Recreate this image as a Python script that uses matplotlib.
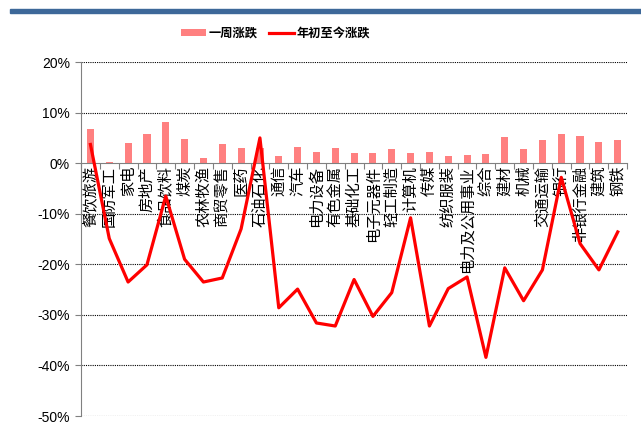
import numpy as np
import matplotlib
matplotlib.use("Agg")
import matplotlib.pyplot as plt
from matplotlib.patches import Rectangle
from matplotlib.ticker import FixedLocator, PercentFormatter

plt.rcParams['font.family'] = ['Noto Sans CJK SC', 'DejaVu Sans']
plt.rcParams['axes.unicode_minus'] = False

industries = ["餐饮旅游", "国防军工", "家电", "房地产", "食品饮料", "煤炭", "农林牧渔",
              "商贸零售", "医药", "石油石化", "通信", "汽车", "电力设备", "有色金属",
              "基础化工", "电子元器件", "轻工制造", "计算机", "传媒", "纺织服装",
              "电力及公用事业", "综合", "建材", "机械", "交通运输", "银行", "非银行金融",
              "建筑", "钢铁"]
week_chg = [6.85, 0.2, 3.95, 5.8, 8.2, 4.8, 1.05, 3.7, 2.95, 3.0, 1.5, 3.15, 2.2, 3.0,
            2.05, 2.05, 2.9, 2.1, 2.25, 1.5, 1.7, 1.85, 5.25, 2.9, 4.65, 5.8, 5.4,
            4.25, 4.65]
ytd_chg = [3.7, -14.9, -23.5, -20.1, -6.5, -19.0, -23.5, -22.7, -13.0, 5.0, -28.6,
           -24.9, -31.6, -32.2, -23.0, -30.3, -25.6, -10.8, -32.2, -24.8, -22.5,
           -38.4, -20.7, -27.2, -21.1, -2.8, -15.9, -21.1, -13.6]
y_ticks = [20, 10, 0, -10, -20, -30, -40, -50]

fig = plt.figure(figsize=(6.41, 4.37), dpi=100)
ax = fig.add_axes([0.1264, 0.048, 0.852, 0.81])

x = np.arange(len(industries))
bars = ax.bar(x, week_chg, width=0.38, color="#ff8080", label="一周涨跌", zorder=2)
line, = ax.plot(x, ytd_chg, color="#ff0000", linewidth=2.3, label="年初至今涨跌", zorder=5)

ax.set_xlim(-0.5, len(industries) - 0.5)
ax.set_ylim(-50, 20)

ax.spines['bottom'].set_position(('data', 0))
ax.spines['bottom'].set_color("#808080")
ax.spines['left'].set_color("#808080")
ax.spines['top'].set_visible(False)
ax.spines['right'].set_visible(False)

ax.set_yticks(y_ticks)
ax.yaxis.set_major_formatter(PercentFormatter(decimals=0))
ax.tick_params(axis='y', length=4, width=0.8, color="#808080", pad=4)

ax.set_xticks(x)
ax.xaxis.set_minor_locator(FixedLocator(np.arange(len(industries) + 1) - 0.5))
ax.tick_params(axis='x', which='major', length=0, pad=2)
ax.tick_params(axis='x', which='minor', length=4, width=0.8, color="#808080")
ax.set_xticklabels(industries)

ax.yaxis.grid(True, linestyle=(0, (1, 1)), color="black", linewidth=0.8)
ax.set_axisbelow(True)
for val, gl in zip(y_ticks, ax.yaxis.get_gridlines()):
    if val == 0:
        gl.set_visible(False)

for lab in ax.get_yticklabels():
    lab.set_family(['Liberation Sans', 'DejaVu Sans'])
    lab.set_fontsize(10)
for lab in ax.get_xticklabels():
    lab.set_rotation(90)
    lab.set_ha('center')
    lab.set_va('top')
    lab.set_fontsize(11)

fig.legend([bars, line], ["一周涨跌", "年初至今涨跌"], loc='center',
           bbox_to_anchor=(0.43, 0.924), ncol=2, frameon=False,
           prop={'size': 8.8, 'weight': 'bold'}, handlelength=2.0,
           handleheight=0.6, columnspacing=1.0, handletextpad=0.2)

fig.patches.append(Rectangle((10 / 641, 1 - 13 / 437), 1, 4 / 437,
                             transform=fig.transFigure, color="#3d6899"))

fig.savefig("out.png", dpi=100)
